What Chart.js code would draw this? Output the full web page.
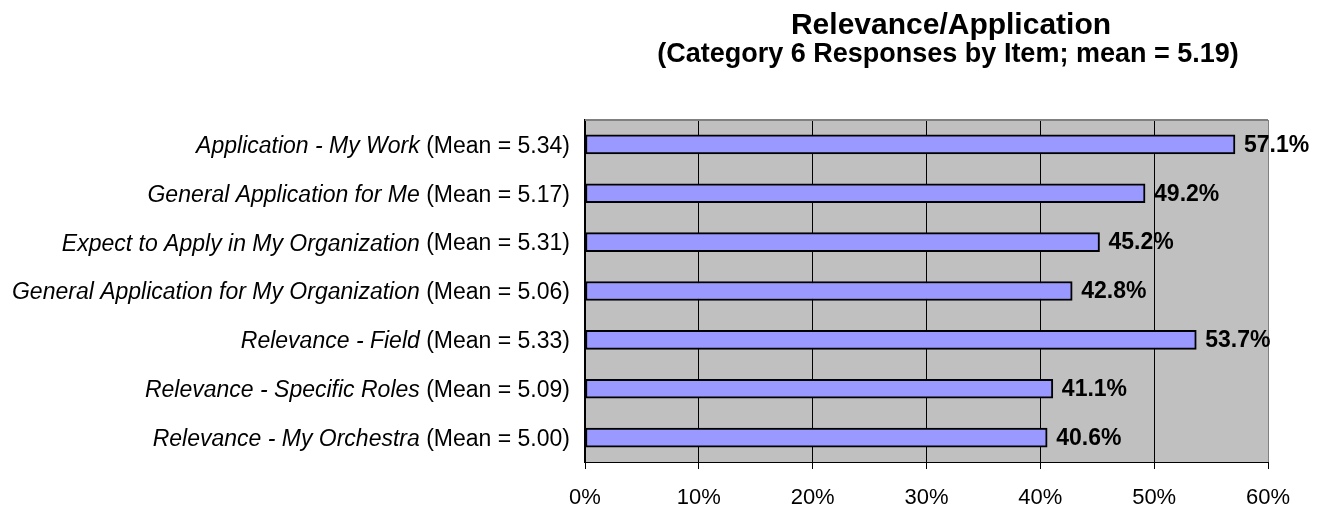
<!DOCTYPE html>
<html>
<head>
<meta charset="utf-8">
<script src="https://cdn.jsdelivr.net/npm/chart.js@4/dist/chart.umd.min.js"></script>
<style>
  body { margin: 0; background: #fff; }
  #wrap { width: 1334px; height: 513px; }
</style>
</head>
<body>
<div id="wrap"><canvas id="relevanceChart" width="1334" height="513"></canvas></div>
<script>
// data
const items = [
    'Application - My Work',
    'General Application for Me',
    'Expect to Apply in My Organization',
    'General Application for My Organization',
    'Relevance - Field',
    'Relevance - Specific Roles',
    'Relevance - My Orchestra'
];
const means = ['5.34', '5.17', '5.31', '5.06', '5.33', '5.09', '5.00'];
const percents = [57.1, 49.2, 45.2, 42.8, 53.7, 41.1, 40.6];

const titleText = 'Relevance/Application';
const subtitleText = '(Category 6 Responses by Item; mean = 5.19)';

const FONT = '"Liberation Sans", Arial, sans-serif';

// grey plot area, titles, mixed italic labels, value labels
const excelLook = {
    id: 'excelLook',
    beforeDraw(chart) {
        const { ctx, chartArea: a } = chart;
        ctx.save();
        ctx.fillStyle = '#c0c0c0';
        ctx.fillRect(a.left, a.top, a.right - a.left, a.bottom - a.top);
        ctx.restore();
    },
    afterDraw(chart) {
        const { ctx, chartArea: a } = chart;
        ctx.save();

        // top border of the plot area
        ctx.strokeStyle = '#808080';
        ctx.lineWidth = 2;
        ctx.beginPath();
        ctx.moveTo(a.left, a.top);
        ctx.lineTo(a.right, a.top);
        ctx.stroke();

        // titles
        ctx.fillStyle = '#000';
        ctx.textAlign = 'center';
        ctx.textBaseline = 'alphabetic';
        ctx.font = 'bold 30px ' + FONT;
        ctx.fillText(titleText, 951, 34);
        ctx.font = 'bold 27px ' + FONT;
        ctx.fillText(subtitleText, 948, 62);

        // category labels: italic item + normal mean
        const yScale = chart.scales.y;
        ctx.textAlign = 'right';
        ctx.textBaseline = 'middle';
        items.forEach((item, i) => {
            const y = yScale.getPixelForTick(i) + 2;
            const right = a.left - 15;
            const meanText = '(Mean = ' + means[i] + ')';
            ctx.font = '23px ' + FONT;
            const w = ctx.measureText(' ' + meanText).width;
            ctx.fillText(meanText, right, y);
            ctx.font = 'italic 23px ' + FONT;
            ctx.fillText(item, right - w, y);
        });

        // value labels
        const meta = chart.getDatasetMeta(0);
        ctx.font = 'bold 23px ' + FONT;
        ctx.textAlign = 'left';
        meta.data.forEach((bar, i) => {
            ctx.fillText(percents[i].toFixed(1) + '%', bar.x + 9, bar.y + 1);
        });
        ctx.restore();
    }
};

new Chart(document.getElementById('relevanceChart'), {
    type: 'bar',
    data: {
        labels: items,
        datasets: [{
            data: percents,
            backgroundColor: '#9999ff',
            borderColor: '#000',
            borderWidth: 2,
            borderSkipped: false,
            barThickness: 19
        }]
    },
    options: {
        indexAxis: 'y',
        responsive: false,
        animation: false,
        layout: { padding: { left: 585, right: 66, top: 120, bottom: 0 } },
        plugins: {
            legend: { display: false },
            title: { display: false },
            tooltip: { enabled: false }
        },
        scales: {
            x: {
                min: 0,
                max: 60,
                afterFit: scale => { scale.height = 51; },
                ticks: {
                    stepSize: 10,
                    color: '#000',
                    padding: 16,
                    font: { size: 22, family: FONT },
                    callback: v => v + '%'
                },
                grid: {
                    color: ctx => (ctx.tick && ctx.tick.value === 60) ? '#808080' : '#000',
                    lineWidth: 1,
                    tickLength: 7,
                    tickColor: '#000'
                },
                border: { display: true, color: '#000', width: 1 }
            },
            y: {
                ticks: { display: false },
                grid: { display: false, drawTicks: false },
                border: { display: true, color: '#000', width: 2 }
            }
        }
    },
    plugins: [excelLook]
});
</script>
</body>
</html>
